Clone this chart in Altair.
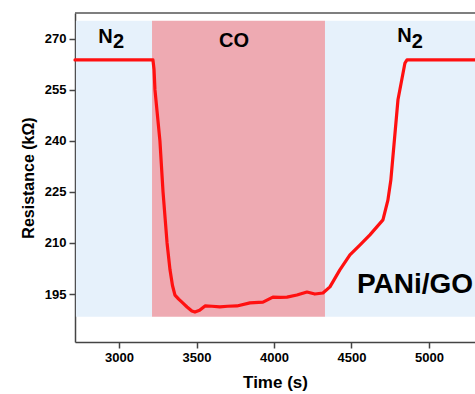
import altair as alt
import pandas as pd

# Response curve (time in s, resistance in kOhm)
time_s = [2716, 3219, 3226, 3232, 3264, 3284, 3310, 3329, 3345, 3361, 3385, 3406,
          3439, 3470, 3490, 3520, 3555, 3600, 3651, 3700, 3761, 3845, 3929, 3993,
          4040, 4084, 4148, 4213, 4264, 4316, 4361, 4425, 4490, 4554, 4619, 4703,
          4735, 4754, 4800, 4845, 4858, 5297]
resistance = [263.8, 263.8, 261.0, 255.0, 240.0, 225.0, 210.0, 202.1, 197.5, 194.7,
              193.5, 192.6, 191.2, 190.0, 189.7, 190.2, 191.5, 191.4, 191.2, 191.4,
              191.5, 192.4, 192.6, 194.1, 194.0, 194.1, 194.7, 195.6, 195.0, 195.3,
              197.1, 202.1, 206.5, 209.4, 212.4, 216.8, 222.6, 228.5, 252.1, 262.9,
              263.8, 263.8]

# Gas exposure regions
region_start = [2722, 3213, 4329]
region_end = [3213, 4329, 5297]
region_gas = ["N2", "CO", "N2"]
region_low = 188.3
region_high = 275.3

x_ticks = [3000, 3500, 4000, 4500, 5000]
y_ticks = [195, 210, 225, 240, 255, 270]
x_domain = [2716, 5297]
y_domain = [180.9, 277.6]

FONT = "Liberation Sans"

curve = pd.DataFrame({"t": time_s, "r": resistance})
regions = pd.DataFrame({"start": region_start, "end": region_end, "gas": region_gas,
                        "low": [region_low] * 3, "high": [region_high] * 3})

xs = alt.Scale(domain=x_domain, nice=False, zero=False)
ys = alt.Scale(domain=y_domain, nice=False, zero=False)

rects = alt.Chart(regions).mark_rect().encode(
    x=alt.X("start:Q", scale=xs,
            axis=alt.Axis(values=x_ticks, title="Time (s)", format="d", grid=False)),
    x2="end:Q",
    y=alt.Y("low:Q", scale=ys,
            axis=alt.Axis(values=y_ticks, title="Resistance (kΩ)", format="d", grid=False)),
    y2="high:Q",
    color=alt.Color("gas:N", scale=alt.Scale(domain=["N2", "CO"],
                                             range=["#e6f1fb", "#eeaab2"]), legend=None),
)

line = alt.Chart(curve).mark_line(color="#ff1010", strokeWidth=3.2,
                                  strokeJoin="round", strokeCap="round").encode(
    x=alt.X("t:Q", scale=xs), y=alt.Y("r:Q", scale=ys))

def label(txt, t, r, size, align="center"):
    return alt.Chart().mark_text(text=txt, font=FONT, fontSize=size, fontWeight="bold",
                                 color="black", align=align, baseline="alphabetic").encode(
        x=alt.datum(t, scale=xs), y=alt.datum(r, scale=ys))

texts = (label("N", 2913, 268.8, 20) + label("2", 2997, 267.4, 20)
         + label("CO", 3742, 267.6, 20)
         + label("N", 4842, 269.1, 20) + label("2", 4925, 267.4, 20)
         + label("PANi/GO", 4535, 195.3, 28, align="left"))

top = alt.Chart().mark_rule(color="#555555", strokeWidth=1.5).encode(
    x=alt.value(0), x2=alt.value(400), y=alt.value(0))

chart = alt.layer(rects, line, texts, top).properties(
    width=400, height=329,
    autosize=alt.AutoSizeParams(type="none"),
    padding={"left": 75, "top": 13, "right": 0, "bottom": 52},
).configure_view(strokeWidth=0).configure_axis(
    labelFont=FONT, labelFontSize=13, labelFontWeight="bold", labelColor="black",
    titleFont=FONT, titleFontSize=16, titleFontWeight="bold", titleColor="black",
    domainColor="#444444", domainWidth=1.5, tickColor="#444444", tickWidth=1.5,
    tickSize=6, labelPadding=3,
).configure_axisX(titlePadding=10, titleFontSize=17).configure_axisY(titlePadding=8)

chart.save("out.html", embed_options={"renderer": "svg", "actions": False})
